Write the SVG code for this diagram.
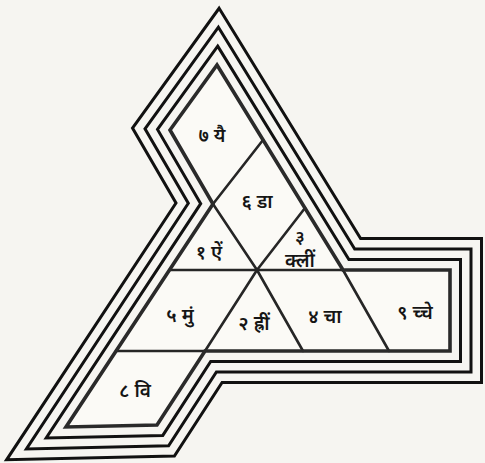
<svg xmlns="http://www.w3.org/2000/svg" width="485" height="463" viewBox="0 0 485 463">
<style>
.frame{fill:none;stroke:#111;stroke-width:3;stroke-linejoin:miter}
.inner{fill:none;stroke:#2a2a2a;stroke-width:3.6;stroke-linejoin:miter}
.cell{fill:#fbfaf6;stroke:none}
.ln{stroke:#262626;stroke-width:2.6;stroke-linecap:round}
.t{font-family:"Noto Sans","DejaVu Sans",sans-serif;font-size:19px;font-weight:600;fill:#151515;text-anchor:middle}
.s{font-size:18px}
</style>
<rect width="485" height="463" fill="#f6f5f1"/>
<g id="frame">
<polygon class="frame" points="219.1,8.3 360.6,238.5 481.5,238.5 481.5,382.5 222.1,382.5 174.4,456.1 6.6,459.8 176,203 132.5,128.1"/>
<polygon class="frame" points="218.4,27.2 354.7,249 471,249 471,372 216.4,372 168.6,445.8 26.4,448.9 188.3,203.3 145,128.8"/>
<polygon class="frame" points="217.7,46.1 348.9,259.5 460.5,259.5 460.5,361.5 210.7,361.5 162.8,435.4 46.2,437.9 200.7,203.7 157.5,129.4"/>
</g>
<g id="cell7"><polygon class="cell" points="170,130 217,65 263,140 213,204"/><text class="t" x="212" y="142">७ यै</text></g>
<g id="cell6"><polygon class="cell" points="263,140 305,208 257,270 213,204"/><text class="t" x="257" y="208">६ डा</text></g>
<g id="cell1"><polygon class="cell" points="213,204 257,270 169.5,270"/><text class="t" x="209" y="259">१ ऐं</text></g>
<g id="cell3"><polygon class="cell" points="305,208 343,270 257,270"/><text class="t s" x="300" y="243">३</text><text class="t" x="300" y="267">क्लीं</text></g>
<g id="cell5"><polygon class="cell" points="169.5,270 257,270 205,351 116,351"/><text class="t" x="180" y="322">५ मुं</text></g>
<g id="cell2"><polygon class="cell" points="257,270 303,351 205,351"/><text class="t" x="254" y="330">२ ह्रीं</text></g>
<g id="cell4"><polygon class="cell" points="257,270 343,270 389,351 303,351"/><text class="t" x="325" y="323">४ चा</text></g>
<g id="cell9"><polygon class="cell" points="343,270 450,270 450,351 389,351"/><text class="t" x="415" y="319">९ च्चे</text></g>
<g id="cell8"><polygon class="cell" points="116,351 205,351 157,425 66,427"/><text class="t" x="135" y="397">८ वि</text></g>
<g id="connectors">
<line class="ln" x1="263" y1="140" x2="213" y2="204"/>
<line class="ln" x1="305" y1="208" x2="257" y2="270"/>
<line class="ln" x1="213" y1="204" x2="257" y2="270"/>
<line class="ln" x1="169.5" y1="270" x2="343" y2="270"/>
<line class="ln" x1="257" y1="270" x2="205" y2="351"/>
<line class="ln" x1="257" y1="270" x2="303" y2="351"/>
<line class="ln" x1="343" y1="270" x2="389" y2="351"/>
<line class="ln" x1="116" y1="351" x2="205" y2="351"/>
</g>
<g id="outline">
<polygon class="inner" points="217,65 343,270 450,270 450,351 205,351 157,425 66,427 213,204 170,130"/>
</g>
</svg>
